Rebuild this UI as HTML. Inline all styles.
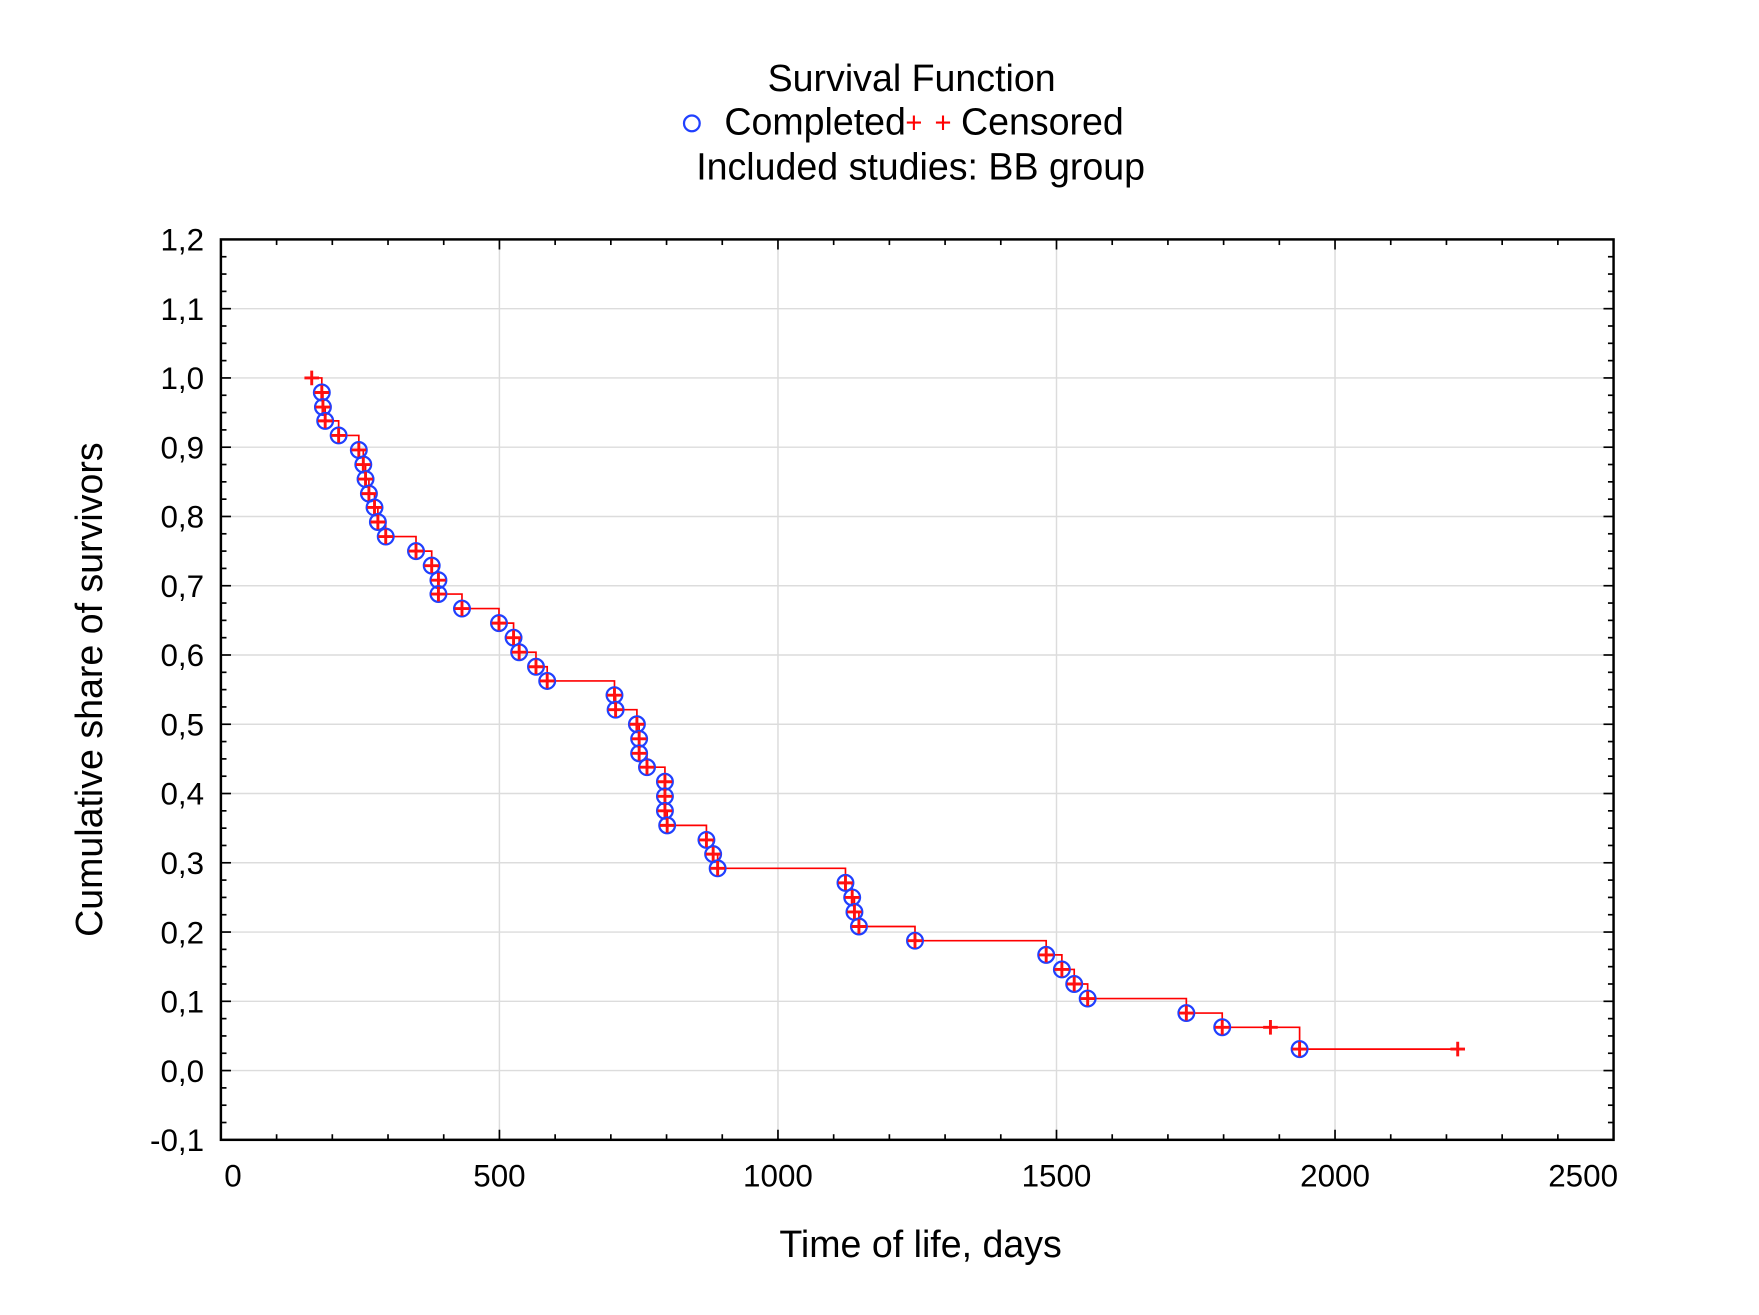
<!DOCTYPE html>
<html><head><meta charset="utf-8"><style>html,body{margin:0;padding:0;background:#fff}svg{display:block}</style></head>
<body>
<svg id="s" width="1759" height="1315" viewBox="0 0 1568.7 1172.7" xmlns="http://www.w3.org/2000/svg" font-family="Liberation Sans, DejaVu Sans, sans-serif">
<rect width="1568.7" height="1172.7" fill="#fff"/>
<text x="813" y="81" font-size="33.5" text-anchor="middle">Survival Function</text>
<circle cx="617" cy="110" r="7" fill="none" stroke="#2040ff" stroke-width="2"/>
<text x="646" y="120" font-size="33.5">Completed</text>
<text x="815" y="118" font-size="26" fill="#ff0000" text-anchor="middle">+</text>
<text x="841" y="118" font-size="26" fill="#ff0000" text-anchor="middle">+</text>
<text x="857" y="120" font-size="33.5">Censored</text>
<text x="821" y="160" font-size="33.5" text-anchor="middle">Included studies: BB group</text>
<g id="grid" stroke="#dcdcdc" stroke-width="1.3"></g>
<g id="ticks" stroke="#000" stroke-width="1.5"></g>
<g id="labels" font-size="28"></g>
<g id="data"></g>
<rect x="197" y="213.5" width="1242" height="803" fill="none" stroke="#000" stroke-width="2.2"/>
<text x="821" y="1121" font-size="33.5" text-anchor="middle">Time of life, days</text>
<text transform="translate(91,615) rotate(-90)" font-size="33.5" text-anchor="middle">Cumulative share of survivors</text>
</svg>
<script>
var NS="http://www.w3.org/2000/svg";
function el(p,t,a,txt){var e=document.createElementNS(NS,t);for(var k in a)e.setAttribute(k,a[k]);if(txt!=null)e.textContent=txt;document.getElementById(p).appendChild(e);return e;}
var X0=197,X1=1439,Y0=1016.5,Y1=213.5;
function xp(t){return X0+t*(X1-X0)/2500;}
function yp(v){return Y0-(v+0.1)*(Y0-Y1)/1.3;}
for(var i=1;i<5;i++){var x=xp(i*500);el('grid','line',{x1:x,x2:x,y1:Y1,y2:Y0});}
for(var j=0;j<13;j++){var v=-0.1+j*0.1;var y=yp(v);el('grid','line',{x1:X0,x2:X1,y1:y,y2:y});}
for(var t=0;t<=2500;t+=100){var x=xp(t),L=(t%500==0)?9:5;el('ticks','line',{x1:x,x2:x,y1:Y0,y2:Y0-L});el('ticks','line',{x1:x,x2:x,y1:Y1,y2:Y1+L});}
for(var k=0;k<=52;k++){var v=-0.1+k*0.025,y=yp(v),L=(k%4==0)?9:5;el('ticks','line',{x1:X0,x2:X0+L,y1:y,y2:y});el('ticks','line',{x1:X1,x2:X1-L,y1:y,y2:y});}
for(var j=0;j<14;j++){var v=-0.1+j*0.1;var s=v.toFixed(1).replace('.',',');if(s=='-0,0')s='0,0';el('labels','text',{x:182,y:yp(v)+10,'text-anchor':'end'},s);}
['0','500','1000','1500','2000','2500'].forEach(function(s,i){var x=xp(i*500);var a=(i==0)?'start':(i==5?'end':'middle');el('labels','text',{x:i==0?x+3:(i==5?x+4:x),y:1058,'text-anchor':a},s);});
var pts=[[287,0.979],[288,0.958],[290,0.938],[302,0.917],[320,0.896],[324,0.875],[326,0.854],[329,0.833],[334,0.813],[337,0.792],[344,0.771],[371,0.75],[385,0.729],[391,0.708],[391,0.688],[412,0.667],[445,0.646],[458,0.625],[463,0.604],[478,0.583],[488,0.5625],[548,0.542],[549,0.521],[568,0.5],[570,0.479],[570,0.458],[577,0.438],[593,0.417],[593,0.396],[593,0.375],[595,0.354],[630,0.333],[636,0.3125],[640,0.292],[754,0.271],[760,0.25],[762,0.229],[766,0.208],[816,0.1875],[933,0.167],[947,0.146],[958,0.125],[970,0.104],[1058,0.083],[1090,0.0625],[1159,0.031]];
var d='M278,'+yp(1.0);
pts.forEach(function(p){d+=' H'+p[0]+' V'+yp(p[1]);});
d+=' H1300';
el('data','path',{d:d,fill:'none',stroke:'#ff0000','stroke-width':1.5});
function plus(x,y){el('data','path',{d:'M'+(x-6.5)+','+y+'H'+(x+6.5)+'M'+x+','+(y-6.5)+'V'+(y+6.5),stroke:'#ff1010','stroke-width':2.6,fill:'none'});}
pts.forEach(function(p){var y=yp(p[1]);el('data','circle',{cx:p[0],cy:y,r:7,fill:'none',stroke:'#2040ff','stroke-width':2});plus(p[0],y);});
plus(278,yp(1.0));plus(1133,yp(0.0625));plus(1300,yp(0.031));
</script>
</body></html>
